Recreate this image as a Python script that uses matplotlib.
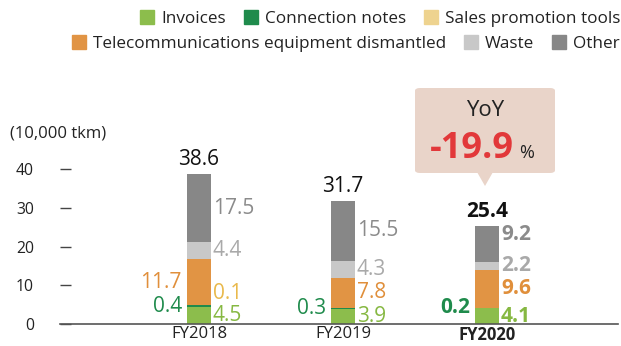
import numpy as np
import matplotlib
matplotlib.use('Agg')
import matplotlib.pyplot as plt
from matplotlib.patches import FancyBboxPatch, Polygon, Patch

plt.rcParams['font.family'] = ['Open Sans', 'DejaVu Sans']

# transport volume by category (10,000 tkm)
years = ['FY2018', 'FY2019', 'FY2020']
series = ['Invoices', 'Connection notes', 'Sales promotion tools',
          'Telecommunications equipment dismantled', 'Waste', 'Other']
invoices = [4.5, 3.9, 4.1]
connection_notes = [0.4, 0.3, 0.2]
sales_promotion = [0.1, 0.0, 0.0]
telecom_equipment = [11.7, 7.8, 9.6]
waste = [4.4, 4.3, 2.2]
other = [17.5, 15.5, 9.2]
totals = [38.6, 31.7, 25.4]
yoy_change = -19.9

stack = [invoices, connection_notes, sales_promotion,
         telecom_equipment, waste, other]
bar_colors = ['#8cbd4c', '#1f8b4c', '#eed38f', '#e19444', '#c8c8c8', '#878787']
label_colors = ['#86b842', '#1f8b4c', '#e9b94c', '#e08f3b', '#a9a9a9', '#8b8b8b']

W, H = 621, 346


def fx(px):
    return px / W


def fy(py):
    # py measured from the top edge
    return 1 - py / H


fig = plt.figure(figsize=(W / 100, H / 100), dpi=100)
ax = fig.add_axes([fx(60), 21.7 / H, 558 / W, 175 / H])

x = np.arange(len(years))
bottom = np.zeros(len(years))

# labels that sit on the left of the bar, and small vertical nudges (px)
left_side = {(1, 0), (1, 1), (1, 2), (3, 0)}
nudge = {(2, 0): 12, (5, 2): 9}

for i, vals in enumerate(stack):
    vals = np.array(vals)
    ax.bar(x, vals, width=0.167, bottom=bottom, color=bar_colors[i], linewidth=0)
    for j, v in enumerate(vals):
        if v <= 0:
            continue
        mid = bottom[j] + v / 2
        left = (i, j) in left_side
        ax.annotate(f'{v:.1f}', (x[j] + (-0.0835 if left else 0.0835), mid),
                    xytext=(-5 if left else 2, nudge.get((i, j), 0)),
                    textcoords='offset pixels',
                    ha='right' if left else 'left', va='center',
                    fontsize=15, color=label_colors[i],
                    fontweight='bold' if j == 2 else 'normal')
    bottom += vals

# totals above bars
for j, t in enumerate(totals):
    ax.annotate(f'{t:.1f}', (x[j], t), xytext=(0, 9), textcoords='offset pixels',
                ha='center', va='baseline', fontsize=15, color='#111111',
                fontweight='bold' if j == 2 else 'normal')

ax.set_xlim(-0.965, 2.91)
ax.set_ylim(0, 45)
ax.set_yticks([0, 10, 20, 30, 40])
ax.set_xticks(x, years)
ax.tick_params(axis='y', direction='in', length=7.9, width=1, color='#444444',
               pad=18.7, labelsize=11.3, labelcolor='#222222')
ax.tick_params(axis='x', length=0, pad=1.5, labelsize=12, labelcolor='#222222')
ax.get_xticklabels()[2].set_fontweight('bold')
for s in ['top', 'right', 'left']:
    ax.spines[s].set_visible(False)
ax.spines['bottom'].set_color('#555555')
ax.spines['bottom'].set_linewidth(1.2)
ax.patch.set_alpha(0)

fig.text(fx(10), fy(133), '(10,000 tkm)', ha='left', va='center',
         fontsize=12, color='#222222')

# legend in two right-aligned rows
handles = [Patch(color=c) for c in bar_colors]
leg_kw = dict(loc='center right', frameon=False, fontsize=12.3, handlelength=0.82,
              handleheight=0.82, handletextpad=0.41, columnspacing=1.05,
              borderpad=0, borderaxespad=0, labelcolor='#222222')
fig.legend(handles[:3], series[:3], ncol=3, bbox_to_anchor=(fx(620), fy(18.5)), **leg_kw)
fig.legend(handles[3:], series[3:], ncol=3, bbox_to_anchor=(fx(620), fy(43.5)), **leg_kw)

# YoY callout over FY2020
box = FancyBboxPatch((fx(415), fy(173)), 140 / W, 85 / H,
                     boxstyle='round,pad=0,rounding_size=0.008',
                     transform=fig.transFigure, facecolor='#e9d4c9',
                     edgecolor='none')
fig.add_artist(box)
pointer = Polygon([(fx(477), fy(172)), (fx(493), fy(172)), (fx(485), fy(186))],
                  closed=True, transform=fig.transFigure,
                  facecolor='#e9d4c9', edgecolor='none')
fig.add_artist(pointer)
fig.text(fx(485), fy(110), 'YoY', ha='center', va='center', fontsize=16,
         color='#222222')
fig.text(fx(514), fy(158), f'{yoy_change:.1f}', ha='right', va='baseline',
         fontsize=26, fontweight='bold', color='#e2383a')
fig.text(fx(519), fy(158), '%', ha='left', va='baseline', fontsize=13,
         color='#222222')

fig.savefig('out.png', dpi=100)
